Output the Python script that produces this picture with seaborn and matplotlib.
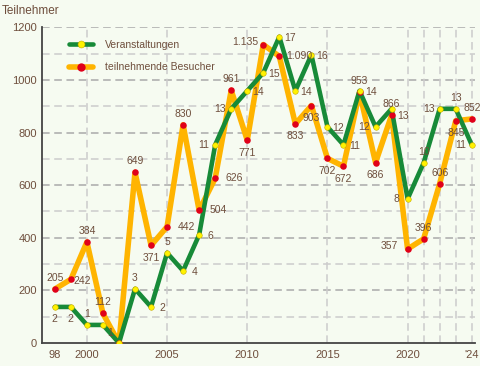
import numpy as np
import pandas as pd
import matplotlib
matplotlib.use('Agg')
import matplotlib.pyplot as plt
from matplotlib.lines import Line2D
import seaborn as sns

years = list(range(1998, 2025))
besucher = [205, 242, 384, 112, 0, 649, 371, 442, 830, 504, 626, 961, 771, 1135,
            1090, 833, 903, 702, 672, 953, 686, 866, 357, 396, 606, 845, 852]
veranst = [2, 2, 1, 1, 0, 3, 2, 5, 4, 6, 11, 13, 14, 15,
           17, 14, 16, 12, 11, 14, 12, 13, 8, 10, 13, 13, 11]
besucher_labels = ['205', '242', '384', '112', '', '649', '371', '442', '830', '504', '626',
                   '961', '771', '1.135', '1.090', '833', '903', '702', '672', '953', '686',
                   '866', '357', '396', '606', '845', '852']
veranst_labels = [str(v) for v in veranst]
veranst_labels[4] = ''
xtick_years = [1998, 2000, 2005, 2010, 2015, 2020, 2024]
xtick_labels = ['98', '2000', '2005', '2010', '2015', '2020', "'24"]

# label placement (offset in points)
off = {'a': (0, 8), 'b': (0, -9), 'r': (8, -1), 'l': (-8, 0),
       'L': (-13, 2), 'R': (14, 0), 'd': (5, -6), 'D': (8, -5)}
besucher_pos = ['a', 'r', 'a', 'a', 'a', 'a', 'b', 'R', 'a', 'R', 'R', 'a', 'b', 'L',
                'R', 'b', 'b', 'b', 'b', 'a', 'b', 'a', 'L', 'a', 'a', 'b', 'a']
veranst_pos = ['b', 'b', 'a', 'd', 'a', 'a', 'r', 'a', 'r', 'r', 'l', 'l', 'r', 'r',
               'r', 'r', 'r', 'r', 'r', 'r', 'l', 'D', 'l', 'a', 'l', 'a', 'l']

scale = 68.5  # Veranstaltungen drawn on Teilnehmer axis
df = pd.DataFrame({'Jahr': years, 'Besucher': besucher,
                   'Veranst': [v * scale for v in veranst]})

bg = '#F6FBF1'
txt = '#6E4E3C'
green = '#178A38'
orange = '#FFB400'
red = '#E0001A'
yellow = '#FFF200'

sns.set_style('white')
plt.rcParams['font.family'] = ['Liberation Sans', 'DejaVu Sans']

fig = plt.figure(figsize=(4.8, 3.66), dpi=100, facecolor=bg)
ax = fig.add_axes([0.0875, 0.063, 0.902, 0.862], facecolor=bg)

sns.lineplot(data=df, x='Jahr', y='Besucher', color=orange, lw=4, ax=ax, zorder=2)
sns.lineplot(data=df, x='Jahr', y='Veranst', color=green, lw=3.3, ax=ax, zorder=3)
sns.scatterplot(data=df, x='Jahr', y='Besucher', color=red, s=22, linewidth=0, ax=ax, zorder=4)
sns.scatterplot(data=df, x='Jahr', y='Veranst', color=yellow, s=16, edgecolor='#C8A800',
                linewidth=0.4, ax=ax, zorder=5)

for x, y, lab, p in zip(list(years) * 2, besucher + list(df['Veranst']),
                        besucher_labels + veranst_labels, besucher_pos + veranst_pos):
    if lab:
        ax.annotate(lab, (x, y), xytext=off[p], textcoords='offset points',
                    ha='center', va='center', fontsize=7.5, color=txt, zorder=6)

ax.set_xlim(1997.2, 2024.2)
ax.set_ylim(0, 1200)
ax.set_xticks(years, minor=True)
ax.set_xticks(xtick_years)
ax.set_xticklabels(xtick_labels)
ax.set_yticks(range(0, 1201, 200))
ax.set_yticks(range(100, 1200, 200), minor=True)
ax.tick_params(axis='both', which='both', direction='in', colors='#555555', labelcolor=txt,
               labelsize=8)
ax.tick_params(axis='x', which='both', length=6, width=1, pad=5)
ax.tick_params(axis='y', which='major', length=9, width=1)
ax.tick_params(axis='y', which='minor', length=4, width=1)
ax.set_xlabel('')
ax.set_ylabel('')

for y in range(100, 1201, 100):
    ax.axhline(y, color='#AAAAAA' if y % 200 == 0 else '#CCCCCC', lw=1.1,
               ls=(0, (5, 3)), zorder=1)
for x in [2000, 2005, 2010, 2015, 2020, 2021, 2022, 2023, 2024]:
    ax.axvline(x, color='#CCCCCC', lw=1.1, ls=(0, (5, 3)), zorder=1)

for s in ['top', 'right']:
    ax.spines[s].set_visible(False)
for s in ['left', 'bottom']:
    ax.spines[s].set_color('#444444')
    ax.spines[s].set_linewidth(1.3)

fig.text(0.003, 0.985, 'Teilnehmer', ha='left', va='top', fontsize=8.5, color=txt)

handles = [Line2D([], [], color=green, lw=3.3, marker='o', markersize=5,
                  markerfacecolor=yellow, markeredgecolor='#C8A800', markeredgewidth=0.4),
           Line2D([], [], color=orange, lw=4, marker='o', markersize=6,
                  markerfacecolor=red, markeredgewidth=0)]
leg = ax.legend(handles, ['Veranstaltungen', 'teilnehmende Besucher'], loc='upper left',
                bbox_to_anchor=(0.04, 0.99), frameon=False, fontsize=7.5, handlelength=2.3,
                labelspacing=1.2, handletextpad=1.2, labelcolor=txt)

fig.savefig('out.png', dpi=100, facecolor=bg)
